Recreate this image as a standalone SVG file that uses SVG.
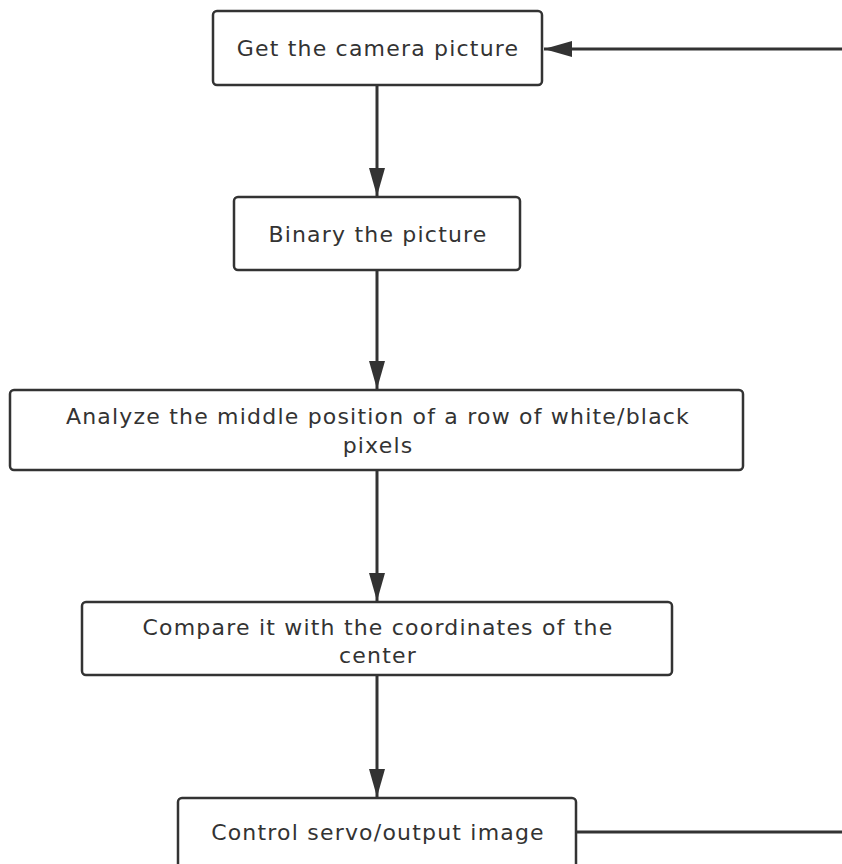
<svg xmlns="http://www.w3.org/2000/svg" width="842" height="864" viewBox="0 0 842 864">
  <style>
    .box { fill: #ffffff; stroke: #333333; stroke-width: 2.5; }
    .label { font-family: "DejaVu Sans", "Noto Sans", sans-serif; font-size: 22px; letter-spacing: 1.2px; fill: #333333; text-anchor: middle; }
    .edge { fill: none; stroke: #333333; stroke-width: 3; }
  </style>
  <defs>
    <marker id="head" viewBox="0 0 28 16" refX="28" refY="8" markerWidth="28" markerHeight="16" orient="auto" markerUnits="userSpaceOnUse">
      <path d="M0,0 L28,8 L0,16 Z" fill="#333333"/>
    </marker>
  </defs>

  <rect width="842" height="864" fill="#ffffff"/>

  <!-- connectors -->
  <g id="connectors">
    <line class="edge" x1="377" y1="86" x2="377" y2="196" marker-end="url(#head)"/>
    <line class="edge" x1="377" y1="271" x2="377" y2="389" marker-end="url(#head)"/>
    <line class="edge" x1="377" y1="471" x2="377" y2="601" marker-end="url(#head)"/>
    <line class="edge" x1="377" y1="676" x2="377" y2="797" marker-end="url(#head)"/>
    <!-- loop back from the last step to the first -->
    <path class="edge" d="M577,832 L860,832 L860,49 L544,49" marker-end="url(#head)"/>
  </g>

  <g id="get-picture">
    <rect class="box" x="213" y="11" width="329" height="74" rx="4"/>
    <text class="label" x="378" y="56">Get the camera picture</text>
  </g>

  <g id="binary">
    <rect class="box" x="234" y="197" width="286" height="73" rx="4"/>
    <text class="label" x="378" y="242">Binary the picture</text>
  </g>

  <g id="analyze">
    <rect class="box" x="10" y="390" width="733" height="80" rx="4"/>
    <text class="label" x="378" y="424">Analyze the middle position of a row of white/black</text>
    <text class="label" x="378" y="453">pixels</text>
  </g>

  <g id="compare">
    <rect class="box" x="82" y="602" width="590" height="73" rx="4"/>
    <text class="label" x="378" y="635">Compare it with the coordinates of the</text>
    <text class="label" x="378" y="663">center</text>
  </g>

  <g id="control">
    <rect class="box" x="178" y="798" width="398" height="70" rx="4"/>
    <text class="label" x="378" y="840">Control servo/output image</text>
  </g>
</svg>
